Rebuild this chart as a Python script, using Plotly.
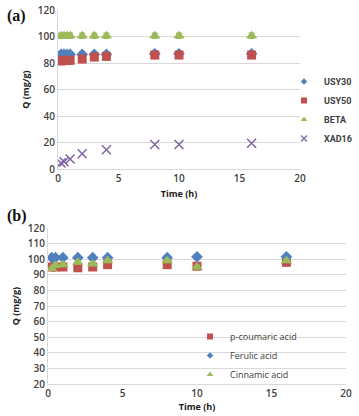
import plotly.graph_objects as go

# Panel (a) data
t_a = [0.25, 0.5, 0.75, 1, 2, 3, 4, 8, 10, 16]
usy30 = [86.5, 86.5, 86.5, 86.5, 86.5, 86.5, 86.5, 87, 87, 87]
usy30_err = [2, 2, 2, 2, 2, 2, 2, 2, 2, 2]
usy50 = [81.5, 82, 82, 82, 83, 84.5, 85, 86, 86, 86]
usy50_err = [2.5, 2.5, 2.5, 2.5, 2.5, 2.5, 2.5, 2.5, 2.5, 2.5]
beta = [100.5, 100.5, 100.5, 100.5, 100.5, 100.5, 100.5, 100.5, 100.5, 100.5]
beta_err = [2, 2, 2, 2, 2, 2, 2, 2, 2, 2]
t_xad = [0.25, 0.5, 1, 2, 4, 8, 10, 16]
xad16 = [4.5, 5.5, 7.5, 11.5, 14.5, 18.5, 18.5, 19.5]

# Panel (b) data
t_b = [0.25, 0.5, 1, 2, 3, 4, 8, 10, 16]
coumaric = [95, 95, 95, 94.5, 95, 96.5, 96.5, 95.5, 98]
ferulic = [101, 101, 101, 101, 101, 101, 101, 101.5, 101.5]
cinnamic = [94, 96, 96.5, 98, 97, 99, 99, 95, 99]
err_b = [1, 1, 1, 1, 1, 1, 1, 1, 1]

names_a = ["USY30", "USY50", "BETA", "XAD16"]
names_b = ["p-coumaric acid", "Ferulic acid", "Cinnamic acid"]

BLUE = "#4F81BD"
RED = "#C0504D"
GREEN = "#9BBB59"
PURPLE = "#8064A2"

fig = go.Figure()

def eb(vals, color):
    return dict(type="data", array=vals, visible=True, color=color, thickness=1.2, width=3)

def add(x, y, name, sym, size, color, err, xa, ya, leg, lsize):
    mk = dict(symbol=sym, size=size, color=color)
    if sym.endswith("open"):
        mk["line"] = dict(color=color, width=1.5)
    fig.add_trace(go.Scatter(x=x, y=y, mode="markers", name=name, marker=mk,
                             error_y=eb(err, color) if err is not None else None,
                             xaxis=xa, yaxis=ya, showlegend=False, legendgroup=name))
    lmk = dict(symbol=sym, size=lsize, color=color)
    if sym.endswith("open"):
        lmk["line"] = dict(color="#A0A0C0", width=1.2)
    fig.add_trace(go.Scatter(x=[None], y=[None], mode="markers", name=name, marker=lmk,
                             xaxis=xa, yaxis=ya, legend=leg, legendgroup=name))

add(t_a, usy30, names_a[0], "diamond", 9, BLUE, usy30_err, "x", "y", "legend", 5)
add(t_a, usy50, names_a[1], "square", 9, RED, usy50_err, "x", "y", "legend", 6)
add(t_a, beta, names_a[2], "triangle-up", 10, GREEN, beta_err, "x", "y", "legend", 6)
add(t_xad, xad16, names_a[3], "x-thin-open", 9, PURPLE, None, "x", "y", "legend", 6)

add(t_b, coumaric, names_b[0], "square", 9, RED, err_b, "x2", "y2", "legend2", 6)
add(t_b, ferulic, names_b[1], "diamond", 9, BLUE, err_b, "x2", "y2", "legend2", 5)
add(t_b, cinnamic, names_b[2], "triangle-up", 10, GREEN, err_b, "x2", "y2", "legend2", 6)

W, H = 359, 416
def px(x): return x / W
def py(y): return 1 - y / H

tickfont = dict(family="Open Sans", size=10, color="#404040", weight=600)
titlefont = dict(family="Open Sans", size=9, color="#202020", weight="bold")
gridc = "#D9D9D9"

fig.update_layout(
    width=W, height=H, margin=dict(l=0, r=0, t=0, b=0, autoexpand=False),
    paper_bgcolor="white", plot_bgcolor="white",
    showlegend=True,
    xaxis=dict(domain=[px(58), px(300)], range=[0, 20], dtick=5, showgrid=False,
               showline=True, linecolor=gridc, ticks="", tickfont=tickfont,
               anchor="y", zeroline=False,
               title=dict(text="Time (h)", font=titlefont, standoff=6)),
    yaxis=dict(domain=[py(169), py(10)], range=[0, 120], dtick=20, showgrid=True,
               gridcolor=gridc, showline=True, linecolor=gridc, ticks="",
               tickfont=tickfont, anchor="x", zeroline=False,
               title=dict(text="Q (mg/g)", font=titlefont, standoff=6)),
    xaxis2=dict(domain=[px(48), px(346)], range=[0, 20], dtick=5, showgrid=False,
                showline=True, linecolor=gridc, ticks="", tickfont=tickfont,
                anchor="y2", zeroline=False,
                title=dict(text="Time (h)", font=titlefont, standoff=4)),
    yaxis2=dict(domain=[py(384), py(228)], range=[20, 120], dtick=10, showgrid=True,
                gridcolor=gridc, showline=True, linecolor=gridc, ticks="",
                tickfont=tickfont, anchor="x2", zeroline=False,
                title=dict(text="Q (mg/g)", font=titlefont, standoff=6)),
    legend=dict(x=px(284), y=py(67), xanchor="left", yanchor="top",
                font=dict(family="Roboto", size=9, color="#404040", weight="bold"),
                itemwidth=30, tracegroupgap=0, bgcolor="rgba(0,0,0,0)"),
    legend2=dict(x=px(190), y=py(322), xanchor="left", yanchor="top",
                 font=dict(family="Open Sans", size=9, color="#404040"),
                 itemwidth=30, tracegroupgap=0, bgcolor="rgba(0,0,0,0)"),
    annotations=[
        dict(text="(a)", x=px(5), y=py(16), xref="paper", yref="paper",
             showarrow=False, xanchor="left", yanchor="middle",
             font=dict(family="Liberation Serif", size=16, color="#111", weight="bold")),
        dict(text="(b)", x=px(5), y=py(216), xref="paper", yref="paper",
             showarrow=False, xanchor="left", yanchor="middle",
             font=dict(family="Liberation Serif", size=16, color="#111", weight="bold")),
    ],
)

fig.write_html("out.html")
